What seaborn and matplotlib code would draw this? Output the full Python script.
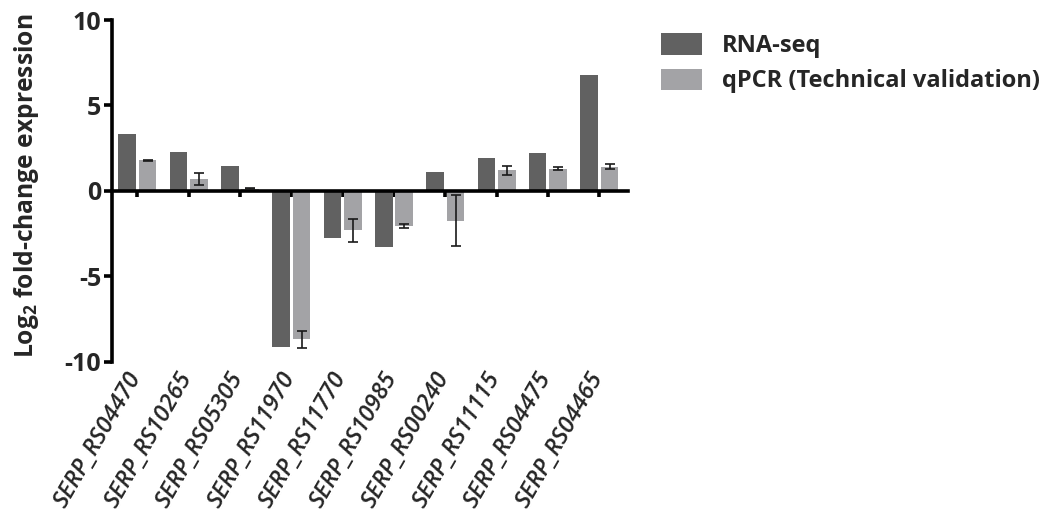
import matplotlib
matplotlib.use("Agg")
import matplotlib.pyplot as plt
import seaborn as sns
import pandas as pd
import numpy as np
from matplotlib.patches import Patch
from matplotlib.transforms import ScaledTranslation

genes = ["SERP_RS04470", "SERP_RS10265", "SERP_RS05305", "SERP_RS11970", "SERP_RS11770",
         "SERP_RS10985", "SERP_RS00240", "SERP_RS11115", "SERP_RS04475", "SERP_RS04465"]
rnaseq = [3.3, 2.3, 1.48, -9.15, -2.75, -3.3, 1.1, 1.95, 2.2, 6.8]
qpcr = [1.78, 0.68, 0.12, -8.7, -2.3, -2.05, -1.75, 1.2, 1.3, 1.42]
qpcr_err = [0.05, 0.35, 0.03, 0.5, 0.68, 0.1, 1.5, 0.27, 0.1, 0.17]
series = ["RNA-seq", "qPCR (Technical validation)"]
colors = ["#616161", "#a3a3a6"]

df = pd.DataFrame({
    "gene": genes * 2,
    "method": [series[0]] * len(genes) + [series[1]] * len(genes),
    "value": rnaseq + qpcr,
})

sns.set_theme(style="ticks")
plt.rcParams["font.family"] = ["Open Sans", "DejaVu Sans"]
plt.rcParams["mathtext.fontset"] = "custom"
plt.rcParams["mathtext.rm"] = "Open Sans:bold"
plt.rcParams["mathtext.bf"] = "Open Sans:bold"

W, H = 1053, 520
fig = plt.figure(figsize=(W / 100, H / 100), dpi=100)
ax_l, ax_r, ax_t, ax_b = 112.3, 628, 20, 361.7
ax = fig.add_axes([ax_l / W, 1 - ax_b / H, (ax_r - ax_l) / W, (ax_b - ax_t) / H])

sns.barplot(data=df, x="gene", y="value", hue="method", order=genes, hue_order=series,
            palette=colors, width=0.8, gap=0.14, errorbar=None, ax=ax, linewidth=0,
            saturation=1)

# error bars for qPCR
cont = ax.containers[1]
xs = [b.get_x() + b.get_width() / 2 for b in cont]
ys = [b.get_height() for b in cont]
ax.errorbar(xs, ys, yerr=qpcr_err, fmt="none", ecolor="#1a1a1a", elinewidth=1.2,
            capsize=3.5, capthick=1.2, zorder=5)

ax.set_ylim(-10, 10)
ax.set_xlim(-0.487, 9.56)
ax.set_yticks([-10, -5, 0, 5, 10])
ax.set_yticklabels(["-10", "-5", "0", "5", "10"], fontsize=18, fontweight="bold")

ax.spines["top"].set_visible(False)
ax.spines["right"].set_visible(False)
ax.spines["bottom"].set_position(("data", 0))
ax.spines["left"].set_linewidth(2.6)
ax.spines["bottom"].set_linewidth(2.6)
ax.spines["left"].set_color("black")
ax.spines["bottom"].set_color("black")

ax.tick_params(axis="y", direction="out", length=6, width=2.6, color="black", pad=2)
ax.tick_params(axis="x", direction="out", length=4, width=2.6, color="black", pad=128)
ax.set_xticks(range(len(genes)))
ax.set_xticklabels(genes, rotation=60, ha="right", va="center", rotation_mode="anchor",
                   fontsize=17, fontstyle="italic", fontweight="semibold")
for lab in ax.get_xticklabels():
    lab.set_transform(lab.get_transform() + ScaledTranslation(-1.5 / 100, 0, fig.dpi_scale_trans))

ax.set_xlabel("")
ax.set_ylabel("Log$_{2}$ fold-change expression", fontsize=17.7, fontweight="bold")
ax.yaxis.set_label_coords(-0.138, 0.515)

ax.legend_.remove()
handles = [Patch(facecolor=c, edgecolor="none") for c in colors]
leg = fig.legend(handles, series, loc="upper left", bbox_to_anchor=(652 / W, 1 - 24 / H),
                 frameon=False, prop={"size": 17, "weight": "bold"}, handlelength=1.7,
                 handleheight=1.0, handletextpad=0.85, labelspacing=0.45, borderaxespad=0)

fig.savefig("out.png", dpi=100)
